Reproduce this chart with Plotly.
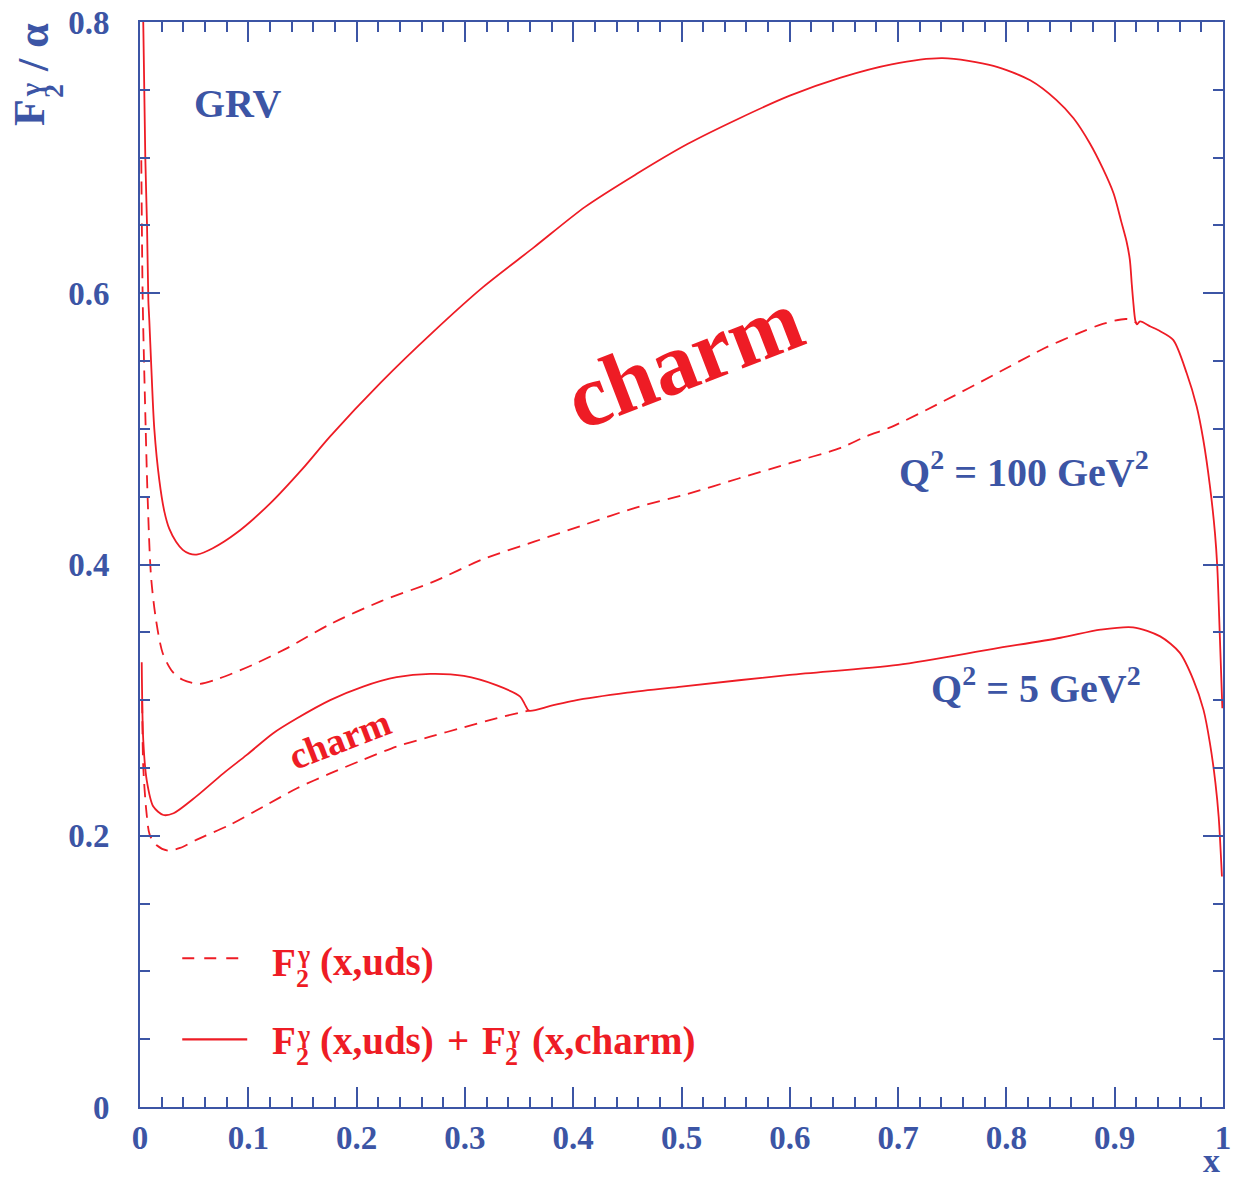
import plotly.graph_objects as go

RED = "#ee1c25"
BLUE = "#3c55a5"
FONT = "Liberation Serif"

# Q^2 = 100 GeV^2, uds + charm (solid)
x_100_tot = [0.003, 0.0049, 0.0065, 0.0077, 0.0086, 0.0102, 0.0132, 0.0178, 0.0225, 0.027,
             0.0333, 0.0395, 0.0456, 0.0533, 0.0672, 0.0887, 0.1195, 0.150, 0.1756, 0.2227, 0.270,
             0.317, 0.364, 0.411, 0.458, 0.5055, 0.5527, 0.600, 0.647, 0.694, 0.741,
             0.788, 0.822, 0.846, 0.862, 0.877, 0.889, 0.899, 0.906, 0.911, 0.914,
             0.9157, 0.917, 0.919, 0.9205, 0.9234, 0.933, 0.942, 0.954, 0.9665, 0.9757,
             0.9818, 0.988, 0.9926, 0.9947, 0.997, 0.9994]
y_100_tot = [0.80, 0.70, 0.65, 0.595, 0.58, 0.55, 0.50, 0.4624, 0.439, 0.4264,
             0.4168, 0.4108, 0.4080, 0.4075, 0.412, 0.423, 0.4445, 0.4705, 0.4945, 0.5345, 0.571,
             0.6047, 0.634, 0.6637, 0.6877, 0.710, 0.7287, 0.7457, 0.759, 0.7688, 0.7733,
             0.7677, 0.757, 0.7426, 0.729, 0.7106, 0.692, 0.6735, 0.653, 0.638, 0.6246,
             0.6074, 0.595, 0.580, 0.577, 0.5792, 0.5755, 0.572, 0.5656, 0.541, 0.5165,
             0.492, 0.4575, 0.423, 0.3985, 0.349, 0.294]

# Q^2 = 100 GeV^2, uds only (dashed)
x_100_uds = [0.0012, 0.0025, 0.0046, 0.0071, 0.0102, 0.0148, 0.021, 0.030, 0.0394, 0.0548,
             0.0733, 0.104, 0.135, 0.1756, 0.2227, 0.270, 0.317, 0.364, 0.411, 0.458,
             0.5055, 0.5527, 0.600, 0.647, 0.6706, 0.694, 0.741, 0.788, 0.835, 0.868,
             0.889, 0.911, 0.9205]
y_100_uds = [0.698, 0.595, 0.521, 0.448, 0.391, 0.359, 0.3346, 0.321, 0.315, 0.312,
             0.316, 0.326, 0.338, 0.356, 0.373, 0.387, 0.404, 0.4168, 0.4295, 0.442,
             0.452, 0.4634, 0.4747, 0.486, 0.4945, 0.5015, 0.520, 0.5396, 0.5594, 0.571,
             0.5774, 0.581, 0.578]

# Q^2 = 5 GeV^2, uds + charm (solid)
x_5_tot = [0.0016, 0.003, 0.0062, 0.0123, 0.0216, 0.031, 0.052, 0.077, 0.0986, 0.123,
           0.145, 0.1756, 0.206, 0.237, 0.268, 0.299, 0.329, 0.351, 0.3556, 0.359,
           0.379, 0.40, 0.45, 0.5, 0.6, 0.7, 0.788, 0.85, 0.887, 0.917, 0.942,
           0.960, 0.9726, 0.982, 0.988, 0.993, 0.996, 0.999]
y_5_tot = [0.328, 0.2706, 0.241, 0.2215, 0.2153, 0.2166, 0.229, 0.246, 0.2596, 0.2756,
           0.2866, 0.300, 0.310, 0.3169, 0.3193, 0.3178, 0.311, 0.3026, 0.2965, 0.2923,
           0.2957, 0.2995, 0.3055, 0.310, 0.3186, 0.326, 0.3378, 0.346, 0.352, 0.3537, 0.347,
           0.335, 0.315, 0.2928, 0.268, 0.239, 0.214, 0.170]

# Q^2 = 5 GeV^2, uds only (dashed)
x_5_uds = [0.002, 0.003, 0.006, 0.009, 0.0154, 0.026, 0.037, 0.052, 0.083, 0.114,
           0.145, 0.1756, 0.206, 0.237, 0.268, 0.299, 0.329, 0.359]
y_5_uds = [0.30, 0.251, 0.217, 0.2006, 0.193, 0.189, 0.191, 0.197, 0.208, 0.2215,
           0.235, 0.246, 0.256, 0.2658, 0.273, 0.280, 0.2866, 0.2923]

x_ticks = [0, 0.1, 0.2, 0.3, 0.4, 0.5, 0.6, 0.7, 0.8, 0.9, 1.0]
x_tick_labels = ["0", "0.1", "0.2", "0.3", "0.4", "0.5", "0.6", "0.7", "0.8", "0.9", "1"]
y_ticks = [0, 0.2, 0.4, 0.6, 0.8]
y_tick_labels = ["0", "0.2", "0.4", "0.6", "0.8"]

DASH = "13px,8px"

fig = go.Figure()
for xs, ys, dash in [(x_100_tot, y_100_tot, "solid"), (x_100_uds, y_100_uds, DASH),
                     (x_5_tot, y_5_tot, "solid"), (x_5_uds, y_5_uds, DASH)]:
    fig.add_trace(go.Scatter(x=xs, y=ys, mode="lines",
                             line=dict(color=RED, width=1.8, dash=dash, shape="spline", smoothing=0.8),
                             showlegend=False, hoverinfo="skip"))

axis_common = dict(showgrid=False, zeroline=False, showline=True, linecolor=BLUE, linewidth=2,
                   mirror="allticks", ticks="inside", tickcolor=BLUE, tickwidth=1.5, ticklen=20,
                   automargin=False,
                   tickfont=dict(family=FONT, size=33, color=BLUE, weight="bold"))

fig.update_xaxes(range=[0, 1], tickvals=x_ticks, ticktext=x_tick_labels,
                 minor=dict(dtick=0.02, ticklen=10, tickcolor=BLUE, tickwidth=1.5, ticks="inside", showgrid=False),
                 ticklabelstandoff=0, **axis_common)
fig.update_yaxes(range=[0, 0.8], tickvals=y_ticks, ticktext=y_tick_labels,
                 minor=dict(dtick=0.05, ticklen=10, tickcolor=BLUE, tickwidth=1.5, ticks="inside", showgrid=False),
                 ticklabelstandoff=22, **axis_common)

def ann(text, x, y, size, color, angle=0, xanchor="center", xref="x", yref="y"):
    fig.add_annotation(text=text, x=x, y=y, xref=xref, yref=yref, showarrow=False,
                       textangle=angle, xanchor=xanchor, yanchor="middle",
                       font=dict(family=FONT, size=size, color=color, weight="bold"))

ann("GRV", 0.0906, 0.740, 40, BLUE)
ann("charm", 0.502, 0.551, 88, RED, angle=-21)
ann("charm", 0.185, 0.271, 38, RED, angle=-21)
ann("Q<sup>2</sup> = 100 GeV<sup>2</sup>", 0.816, 0.470, 40, BLUE)
ann("Q<sup>2</sup> = 5 GeV<sup>2</sup>", 0.827, 0.3105, 40, BLUE)

# legend (text pieces with stacked super/subscripts)
LEG = 39
SMALL = 26
ann("F", 0.1200, 0.1069, LEG, RED, xanchor="left")
ann("γ", 0.1431, 0.1121, SMALL, RED, xanchor="left")
ann("2", 0.1422, 0.0951, SMALL, RED, xanchor="left")
ann("(x,uds)", 0.1644, 0.1069, LEG, RED, xanchor="left")

ann("F", 0.1200, 0.0487, LEG, RED, xanchor="left")
ann("γ", 0.1431, 0.0538, SMALL, RED, xanchor="left")
ann("2", 0.1422, 0.0369, SMALL, RED, xanchor="left")
ann("(x,uds)", 0.1644, 0.0487, LEG, RED, xanchor="left")
ann("+", 0.2820, 0.0487, LEG, RED, xanchor="left")
ann("F", 0.3139, 0.0487, LEG, RED, xanchor="left")
ann("γ", 0.3370, 0.0538, SMALL, RED, xanchor="left")
ann("2", 0.3352, 0.0369, SMALL, RED, xanchor="left")
ann("(x,charm)", 0.3601, 0.0487, LEG, RED, xanchor="left")

fig.add_shape(type="line", x0=0.039, x1=0.099, y0=0.1096, y1=0.1096, xref="x", yref="y",
              line=dict(color=RED, width=2, dash="12px,10px"))
fig.add_shape(type="line", x0=0.039, x1=0.099, y0=0.0498, y1=0.0498, xref="x", yref="y",
              line=dict(color=RED, width=2.2))

# axis titles
ann("x", 0.9898, -0.049, 34, BLUE, xref="paper", yref="paper")
ann("F", -0.1025, 0.917, 44, BLUE, angle=-90, xref="paper", yref="paper")
ann("γ", -0.1016, 0.9373, 28, BLUE, angle=-90, xref="paper", yref="paper")
ann("2", -0.0803, 0.9364, 28, BLUE, angle=-90, xref="paper", yref="paper")
ann("/ α", -0.0979, 0.977, 44, BLUE, angle=-90, xref="paper", yref="paper")

fig.update_layout(width=1234, height=1182, margin=dict(l=140, r=11, t=22, b=75),
                  plot_bgcolor="white", paper_bgcolor="white", showlegend=False)

fig.write_html("out.html", config={"displayModeBar": False},
               post_script="document.body.style.margin='0';document.body.style.overflow='hidden';")
